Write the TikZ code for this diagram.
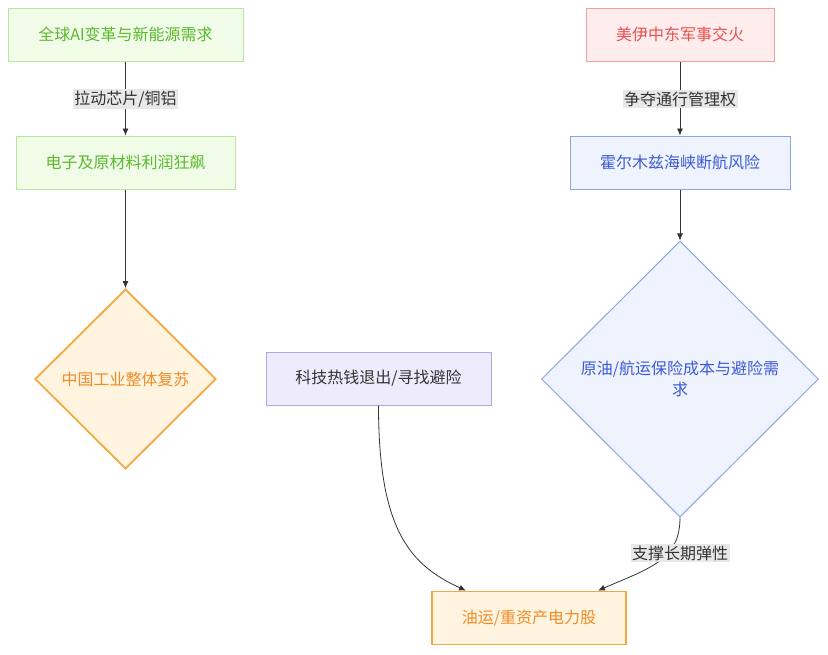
\documentclass[tikz,border=0pt]{standalone}
\usepackage{fontspec}
\setmainfont{Noto Sans CJK SC}
\usepackage{tikz}
\usetikzlibrary{shapes.geometric,arrows.meta}
\usepackage{xcolor}
\definecolor{greenfill}{RGB}{240,252,232}
\definecolor{greenline}{RGB}{184,230,160}
\definecolor{greentext}{RGB}{92,184,46}
\definecolor{redfill}{RGB}{255,236,236}
\definecolor{redline}{RGB}{240,160,160}
\definecolor{redtext}{RGB}{232,80,80}
\definecolor{bluefill}{RGB}{238,243,253}
\definecolor{blueline}{RGB}{140,165,230}
\definecolor{bluetext}{RGB}{60,90,215}
\definecolor{purplefill}{RGB}{238,236,252}
\definecolor{purpleline}{RGB}{180,165,220}
\definecolor{orangefill}{RGB}{255,244,224}
\definecolor{orangeline}{RGB}{245,167,66}
\definecolor{orangetext}{RGB}{240,140,40}
\definecolor{labelgray}{RGB}{232,232,232}
\definecolor{darkline}{RGB}{51,51,51}
\tikzstyle{basebox} = [rectangle, draw, line width=1pt, minimum height=53pt, inner sep=0pt, font=\fontsize{16}{21}\selectfont]
\tikzstyle{greenbox} = [basebox, fill=greenfill, draw=greenline, text=greentext]
\tikzstyle{redbox} = [basebox, fill=redfill, draw=redline, text=redtext]
\tikzstyle{bluebox} = [basebox, fill=bluefill, draw=blueline, text=bluetext]
\tikzstyle{purplebox} = [basebox, fill=purplefill, draw=purpleline, text=darkline]
\tikzstyle{orangebox} = [basebox, fill=orangefill, draw=orangeline, text=orangetext, line width=1.8pt]
\tikzstyle{decision} = [diamond, draw, line width=1pt, inner sep=0pt, align=center, font=\fontsize{16}{21}\selectfont]
\tikzstyle{edgelabel} = [fill=labelgray, text=darkline, inner sep=1.5pt, font=\fontsize{16}{21}\selectfont]
\tikzstyle{arrow} = [draw=darkline, line width=0.8pt, -{Latex[length=7pt,width=6pt]}]

\begin{document}
\begin{tikzpicture}[x=1pt,y=-1pt]
\useasboundingbox (0,0) rectangle (828,654);

% left chain
\node[greenbox, minimum width=235pt] (ai) at (125.5,34.5) {全球AI变革与新能源需求};
\node[greenbox, minimum width=219pt] (profit) at (125.5,162.5) {电子及原材料利润狂飙};
\node[decision, fill=orangefill, draw=orangeline, text=orangetext, line width=1.8pt,
      minimum width=181pt, minimum height=180pt] (china) at (125.5,379) {中国工业整体复苏};

% right chain
\node[redbox, minimum width=188pt] (war) at (680,34.5) {美伊中东军事交火};
\node[bluebox, minimum width=220pt] (strait) at (680,162.5) {霍尔木兹海峡断航风险};
\node[decision, fill=bluefill, draw=blueline, text=bluetext,
      minimum width=277pt, minimum height=276pt] (cost) at (680,379) {原油/航运保险成本与避险需\\求};

% middle
\node[purplebox, minimum width=225pt] (money) at (378.5,378.5) {科技热钱退出/寻找避险};
\node[orangebox, minimum width=194pt] (stocks) at (529,618) {油运/重资产电力股};

\draw[arrow] (ai) -- (profit);
\draw[arrow] (profit) -- (china);
\draw[arrow] (war) -- (strait);
\draw[arrow] (strait) -- (cost);
\draw[arrow] (money.south) .. controls (378.5,530) and (410,565) .. ([xshift=-63pt]stocks.north);
\draw[arrow] (cost.south) .. controls (680,560) and (650,568) .. ([xshift=69pt]stocks.north);

\node[edgelabel] (pull) at (125.5,99) {拉动芯片/铜铝};
\node[edgelabel] (fight) at (680,99) {争夺通行管理权};
\node[edgelabel] (support) at (680,553) {支撑长期弹性};
\end{tikzpicture}
\end{document}
